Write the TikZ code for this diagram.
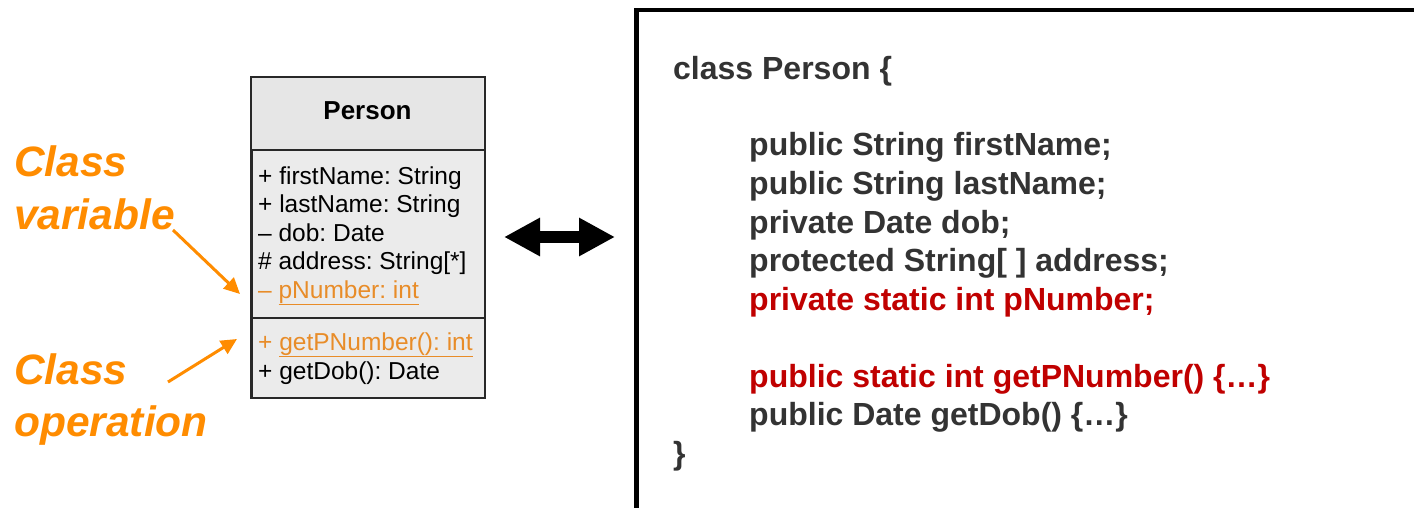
\documentclass[tikz,border=0pt]{standalone}
\usepackage{fontspec}
\setmainfont{Liberation Sans}
\usetikzlibrary{arrows.meta}
\frenchspacing
\definecolor{orng}{RGB}{255,140,0}
\definecolor{umlor}{RGB}{232,140,40}
\definecolor{codegray}{RGB}{51,51,51}
\definecolor{codered}{RGB}{192,0,0}
\definecolor{umlfill}{RGB}{235,235,235}
\definecolor{umlhead}{RGB}{230,230,230}
\definecolor{umlborder}{RGB}{40,40,40}
\begin{document}
\begin{tikzpicture}[x=1pt,y=-1pt,
  codeline/.style={anchor=base west, inner sep=0pt, font=\fontsize{32}{38}\selectfont\bfseries, text=codegray},
  redline/.style={codeline, text=codered},
  umlline/.style={anchor=base west, inner sep=0pt, font=\fontsize{24.5}{28}\selectfont},
  orlabel/.style={anchor=base west, inner sep=0pt, align=left, text=orng, font=\fontsize{42.5}{52}\selectfont\bfseries\itshape},
  orarrow/.style={draw=orng, line width=3pt, -{Triangle[length=16pt,width=15pt]}},
  ul/.style={draw=umlor, line width=1pt}]
\useasboundingbox (0,0) rectangle (1414,508);
\clip (0,0) rectangle (1414,508);

% UML class box
\node[draw=umlborder, line width=1.5pt, fill=umlfill, minimum width=233pt, minimum height=320pt, inner sep=0pt, anchor=north west] (uml) at (251,77) {};
\fill[umlhead] ([shift={(0.75,0.75)}]uml.north west) rectangle (483.25,150);
\draw[umlborder, line width=1.5pt] (uml.north west) rectangle (uml.south east);
\draw[umlborder, line width=1.5pt] (251,150) -- (484,150);
\draw[umlborder, line width=1.5pt] (251,318) -- (484,318);
\node[anchor=base, inner sep=0pt, font=\fontsize{26}{30}\selectfont\bfseries] (title) at (367.5,120) {Person};

\node[umlline] (a1) at (258,184) {+ firstName: String};
\node[umlline] (a2) at (258,212.5) {+ lastName: String};
\node[umlline] (a3) at (258,241) {– dob: Date};
\node[umlline] (a4) at (258,269.5) {\# address: String[*]};
\node[umlline, text=umlor] (a5) at (258,298) {– \underline{pNumber: int}};
\node[umlline, text=umlor] (o1) at (258,350) {+ \underline{getPNumber(): int}};
\node[umlline] (o2) at (258,379) {+ getDob(): Date};

% orange labels
\node[orlabel] (cv) at (14,229) {Class\\variable};
\node[orlabel] (co) at (14,436) {Class\\operation};
\coordinate (cvs) at (173,230);
\coordinate (cve) at (240,294);
\coordinate (cos) at (168,382);
\coordinate (coe) at (237,339);
\draw[orarrow] (cvs) -- (cve);
\draw[orarrow] (cos) -- (coe);

% double arrow
\coordinate (dl) at (504,237);
\coordinate (dr) at (615,237);
\draw[line width=12pt, {Triangle[length=36pt,width=36pt]}-{Triangle[length=36pt,width=36pt]}] (dl) -- (dr);

% code box
\node[draw=black, line width=4.5pt, minimum width=900pt, minimum height=600pt, inner sep=0pt, anchor=north west] (code) at (634,8) {};

\node[codeline] (c0) at (673,80) {class Person \{};
\node[codeline] (c1) at (749,156) {public String firstName;};
\node[codeline] (c2) at (749,194.5) {public String lastName;};
\node[codeline] (c3) at (749,233) {private Date dob;};
\node[codeline] (c4) at (749,271.5) {protected String[ ] address;};
\node[redline] (c5) at (749,310) {private static int pNumber;};
\node[redline] (c6) at (749,387) {public static int getPNumber() \{…\}};
\node[codeline] (c7) at (749,425.5) {public Date getDob() \{…\}};
\node[codeline] (c8) at (673,464) {\}};
\end{tikzpicture}
\end{document}
